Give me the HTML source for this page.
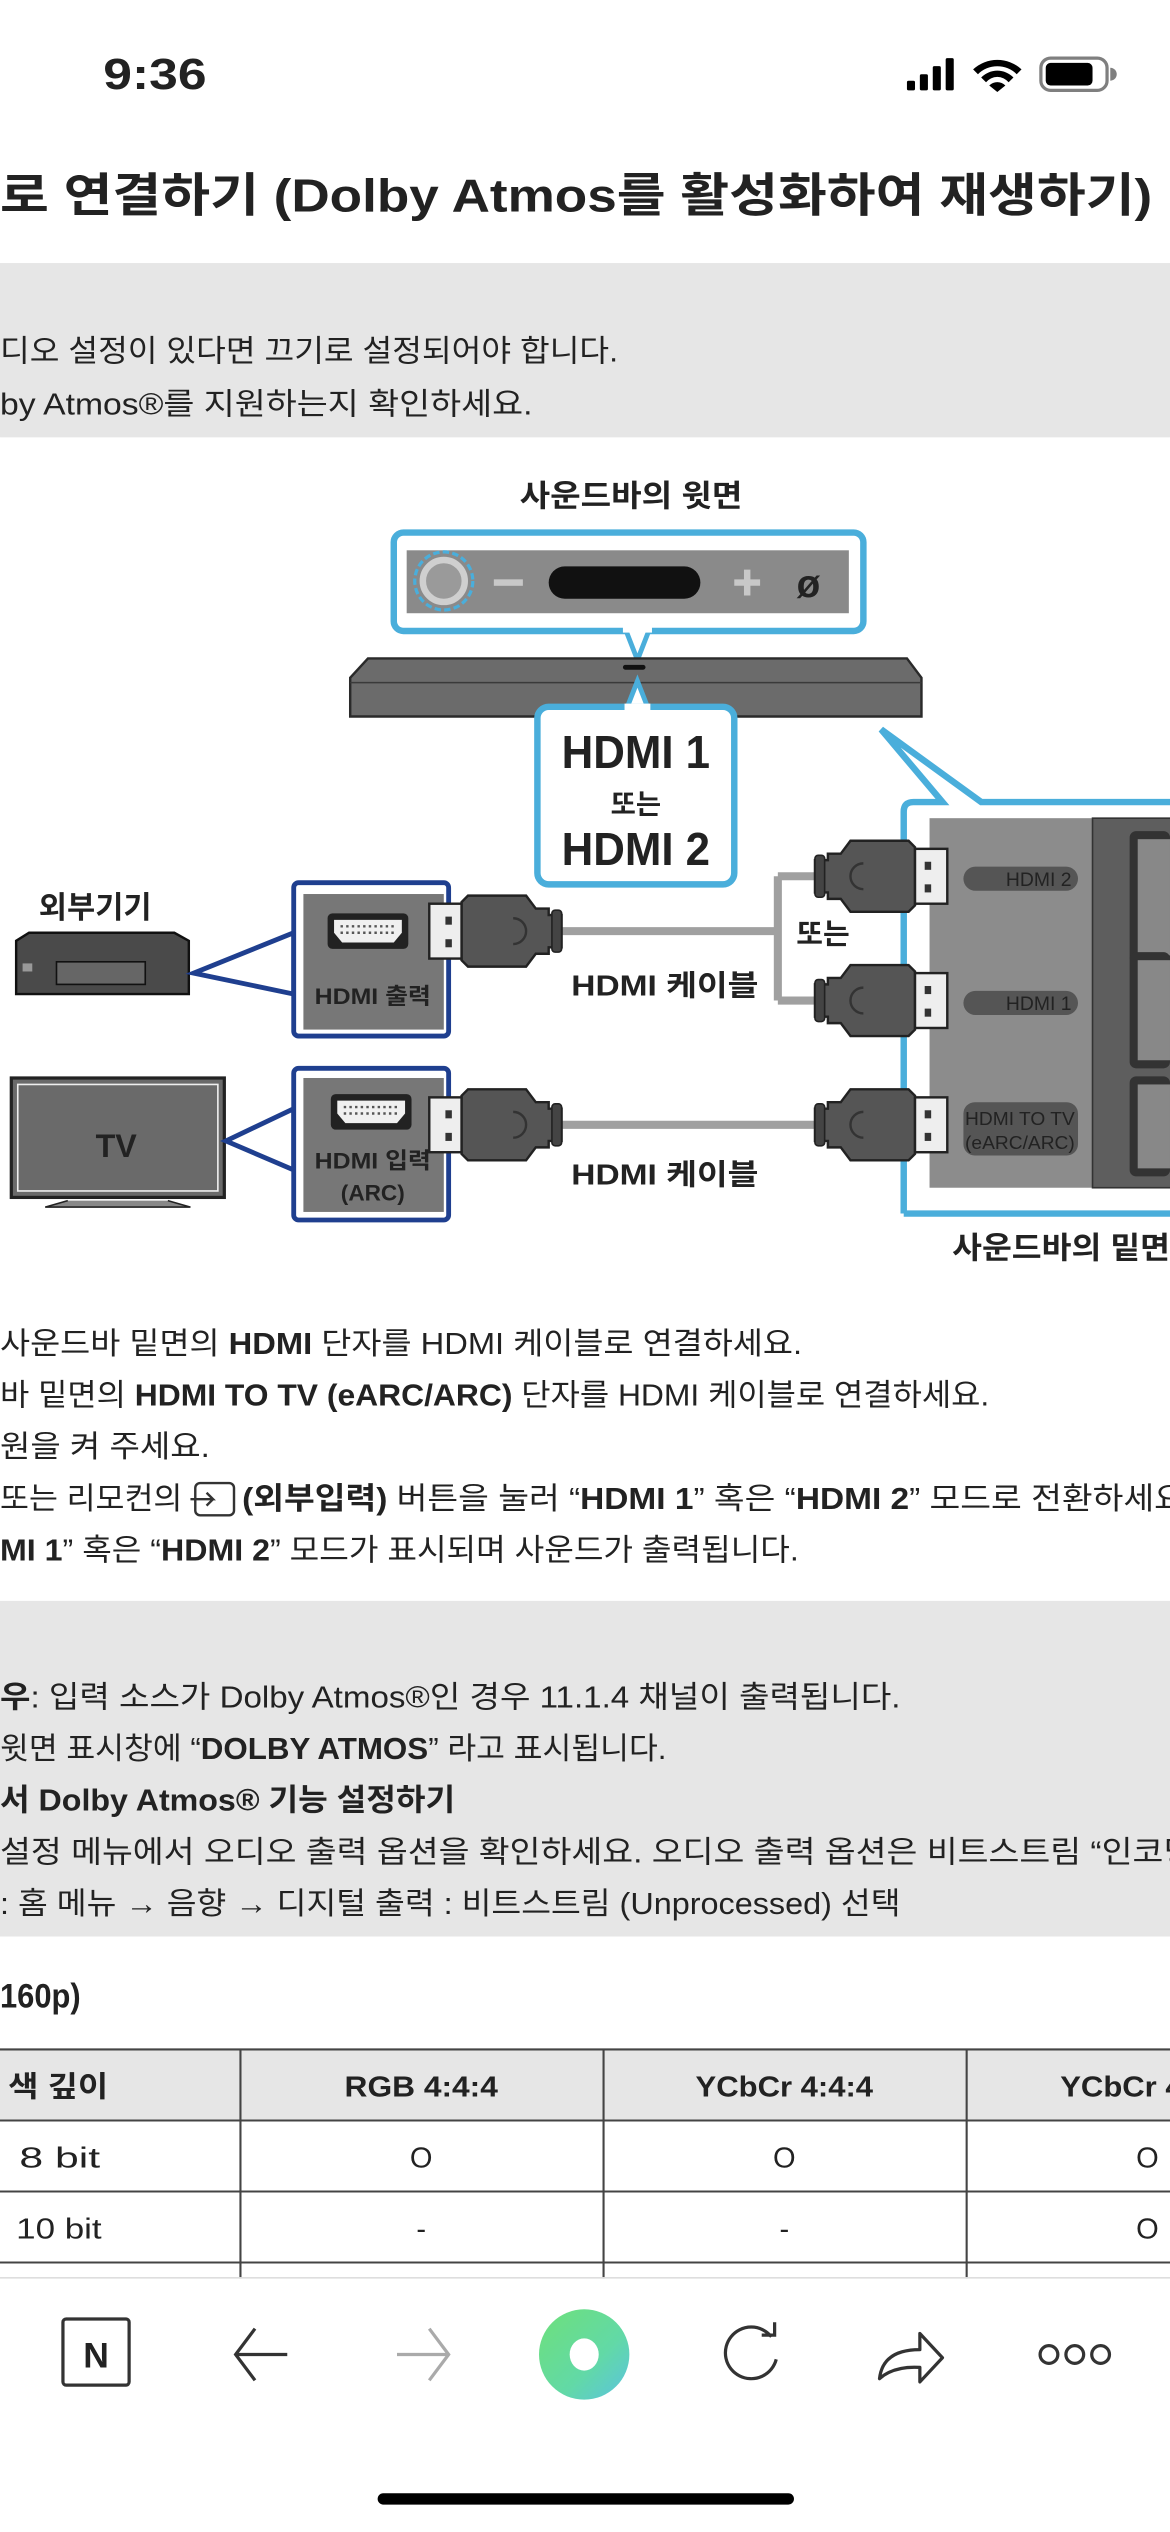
<!DOCTYPE html>
<html><head><meta charset="utf-8"><style>
html,body{margin:0;padding:0;background:#fff;width:1170px;height:2532px;overflow:hidden}
svg{display:block}
text{font-family:"Liberation Sans","Noto Sans CJK KR",sans-serif;fill:#222}
</style></head><body>
<svg width="1170" height="2532" viewBox="0 0 725 1569" xmlns="http://www.w3.org/2000/svg">
<defs>
<linearGradient id="g" x1="0" y1="0" x2="1" y2="1"><stop offset="0" stop-color="#6ee07a"/><stop offset="0.6" stop-color="#62d9a6"/><stop offset="1" stop-color="#5bc3e0"/></linearGradient>
<g id="plugR">
<path d="M0,-10 h8 v-4 h8 l6,-8 h36 l4,4 v36 l-4,4 h-36 l-6,-8 h-8 v-4 h-8z" fill="#555" stroke="#222" stroke-width="1.5"/>
<rect x="0" y="-13" width="6" height="26" rx="2" fill="#444" stroke="#222"/>
<path d="M30,-8 a8,8 0 0 0 0,16" fill="none" stroke="#333" stroke-width="1.5"/>
<rect x="62" y="-17" width="20" height="34" fill="#eee" stroke="#222" stroke-width="1.5"/>
<rect x="68" y="-9" width="4" height="5" fill="#333"/><rect x="68" y="5" width="4" height="5" fill="#333"/>
</g>
<g id="plugL">
<use href="#plugR" transform="scale(-1,1)"/>
</g>
<g id="port">
<rect x="-25" y="-12" width="50" height="22" rx="3" fill="#222"/>
<path d="M-21,-8 h42 v8 l-5,6 h-32 l-5,-6z" fill="#f0f0f0"/>
<path d="M-17,-4 h34 M-17,0 h34" stroke="#555" stroke-width="1.5" stroke-dasharray="1.5,2"/>
</g>
</defs>

<text x="64" y="55" font-size="27" font-weight="bold" fill="#000" textLength="64" lengthAdjust="spacingAndGlyphs">9:36</text>
<rect x="562" y="50" width="5" height="6" rx="1" fill="#000"/><rect x="570" y="46" width="5" height="10" rx="1" fill="#000"/><rect x="578" y="41" width="5" height="15" rx="1" fill="#000"/><rect x="586" y="36" width="5" height="20" rx="1" fill="#000"/>
<path d="M603,43 a22,22 0 0 1 30,0 l-3,3 a17,17 0 0 0 -24,0z M608,48 a14,14 0 0 1 20,0 l-3,3 a9,9 0 0 0 -14,0z M613,53 l5,4 l5,-4 a7,7 0 0 0 -10,0z" fill="#000"/>
<rect x="645" y="36" width="41" height="20" rx="6" fill="none" stroke="#000" stroke-width="2" opacity="0.5"/>
<rect x="648" y="39" width="29" height="14" rx="3" fill="#000"/>
<path d="M688,42 a4,4 0 0 1 0,8z" fill="#000" opacity="0.5"/>

<text x="0" y="131" font-size="29" font-weight="bold" fill="#111" textLength="714" lengthAdjust="spacingAndGlyphs">로 연결하기 (Dolby Atmos를 활성화하여 재생하기)</text>

<rect x="0" y="163" width="725" height="108" fill="#e6e6e6"/>
<text x="0" y="224" font-size="19" textLength="383" lengthAdjust="spacingAndGlyphs">디오 설정이 있다면 끄기로 설정되어야 합니다.</text>
<text x="0" y="257" font-size="19" textLength="330" lengthAdjust="spacingAndGlyphs">by Atmos®를 지원하는지 확인하세요.</text>

<text x="391" y="314" font-size="19" font-weight="bold" text-anchor="middle" textLength="138" lengthAdjust="spacingAndGlyphs">사운드바의 윗면</text>
<rect x="244" y="330" width="291" height="61" rx="6" fill="#fff" stroke="#4aaedb" stroke-width="4"/>
<rect x="252" y="341" width="274" height="39" fill="#8a8a8a"/>
<circle cx="275" cy="360" r="13" fill="#9a9a9a" stroke="#cfcfcf" stroke-width="4"/>
<circle cx="275" cy="360" r="18" fill="none" stroke="#4aaedb" stroke-width="2" stroke-dasharray="4,2"/>
<rect x="306" y="359" width="18" height="4" fill="#c8c8c8"/>
<rect x="340" y="351" width="94" height="20" rx="10" fill="#111"/>
<path d="M455,361 h16 M463,353 v16" stroke="#c8c8c8" stroke-width="4"/>
<text x="501" y="370" font-size="24" font-weight="bold" fill="#c8c8c8" text-anchor="middle">ø</text>
<path d="M388,391 l7,18 l7,-18" fill="#fff" stroke="#4aaedb" stroke-width="3"/>
<rect x="386" y="387" width="18" height="5" fill="#fff"/>
<path d="M228,408 h334 l9,12 v24 h-354 v-24z" fill="#6b6b6b" stroke="#2a2a2a" stroke-width="1.5"/>
<path d="M217,423 h354" stroke="#3a3a3a" stroke-width="1"/>
<rect x="386" y="412" width="14" height="3" rx="1.5" fill="#111"/>
<path d="M388,440 l7,-18 l7,18" fill="#fff" stroke="#4aaedb" stroke-width="3"/>
<rect x="333" y="438" width="122" height="110" rx="7" fill="#fff" stroke="#4aaedb" stroke-width="4"/>
<rect x="387" y="436" width="16" height="6" fill="#fff"/>
<text x="394" y="476" font-size="29" font-weight="bold" text-anchor="middle" fill="#111" textLength="92" lengthAdjust="spacingAndGlyphs">HDMI 1</text>
<text x="394" y="504" font-size="17" font-weight="bold" text-anchor="middle" fill="#111">또는</text>
<text x="394" y="536" font-size="29" font-weight="bold" text-anchor="middle" fill="#111" textLength="92" lengthAdjust="spacingAndGlyphs">HDMI 2</text>

<path d="M560,752 V503 q0,-6 6,-6 h18 l-38,-45 l62,45 h130" fill="none" stroke="#4aaedb" stroke-width="4"/>
<path d="M560,752 h170" stroke="#4aaedb" stroke-width="4" fill="none"/>
<rect x="576" y="507" width="101" height="229" fill="#8c8c8c"/>
<rect x="677" y="507" width="50" height="229" fill="#5e5e5e" stroke="#333"/>
<rect x="700" y="515" width="25" height="82" rx="4" fill="#333"/><rect x="705" y="520" width="20" height="72" fill="#888"/>
<rect x="700" y="590" width="25" height="72" rx="4" fill="#333"/><rect x="705" y="595" width="20" height="62" fill="#888"/>
<rect x="700" y="667" width="25" height="62" rx="4" fill="#333"/><rect x="705" y="672" width="20" height="52" fill="#888"/>
<rect x="597" y="537" width="71" height="15" rx="7.5" fill="#555"/>
<text x="664" y="549" font-size="12" fill="#eee" text-anchor="end">HDMI 2</text>
<rect x="597" y="614" width="71" height="15" rx="7.5" fill="#555"/>
<text x="664" y="626" font-size="12" fill="#eee" text-anchor="end">HDMI 1</text>
<rect x="597" y="683" width="71" height="33" rx="7" fill="#555"/>
<text x="632" y="697" font-size="11.5" fill="#eee" text-anchor="middle" textLength="68" lengthAdjust="spacingAndGlyphs">HDMI TO TV</text>
<text x="632" y="712" font-size="11.5" fill="#eee" text-anchor="middle" textLength="68" lengthAdjust="spacingAndGlyphs">(eARC/ARC)</text>
<text x="725" y="780" font-size="19" font-weight="bold" text-anchor="end" textLength="135" lengthAdjust="spacingAndGlyphs">사운드바의 밑면</text>

<path d="M345,577 H482 M482,543 V620 M482,543 H510 M482,620 H510" stroke="#a0a0a0" stroke-width="5" fill="none"/>
<path d="M345,697 H510" stroke="#a0a0a0" stroke-width="5"/>
<text x="510" y="585" font-size="18" font-weight="bold" text-anchor="middle">또는</text>
<text x="412" y="617" font-size="18" font-weight="bold" text-anchor="middle" textLength="116" lengthAdjust="spacingAndGlyphs">HDMI 케이블</text>
<text x="412" y="734" font-size="18" font-weight="bold" text-anchor="middle" textLength="116" lengthAdjust="spacingAndGlyphs">HDMI 케이블</text>
<use href="#plugR" transform="translate(505,543)"/>
<use href="#plugR" transform="translate(505,620)"/>
<use href="#plugR" transform="translate(505,697)"/>

<text x="59" y="569" font-size="19" font-weight="bold" text-anchor="middle">외부기기</text>
<path d="M10,583 l8,-5 h90 l9,5 v33 h-107z" fill="#4a4a4a" stroke="#111" stroke-width="1.5"/>
<rect x="35" y="596" width="55" height="14" fill="#666" stroke="#111"/>
<rect x="14" y="597" width="6" height="5" fill="#999"/>
<path d="M120,603 l62,-25 v38z" fill="none" stroke="#1f3f8f" stroke-width="3"/>
<rect x="182" y="547" width="96" height="95" rx="3" fill="#fff" stroke="#1f3f8f" stroke-width="3"/>
<rect x="188" y="554" width="87" height="84" fill="#777"/>
<use href="#port" transform="translate(228,578)"/>
<text x="231" y="622" font-size="14" fill="#fff" text-anchor="middle" font-weight="bold" textLength="72" lengthAdjust="spacingAndGlyphs">HDMI 출력</text>
<use href="#plugL" transform="translate(348,577)"/>

<rect x="7" y="668" width="132" height="74" fill="#6a6a6a" stroke="#222" stroke-width="2"/>
<rect x="11" y="672" width="124" height="66" fill="none" stroke="#eee" stroke-width="1"/>
<text x="72" y="717" font-size="20" font-weight="bold" fill="#fff" text-anchor="middle">TV</text>
<path d="M42,744 l-14,4 h90 l-14,-4" fill="#888" stroke="#222"/>
<path d="M140,707 l42,-20 v38z" fill="none" stroke="#1f3f8f" stroke-width="3"/>
<rect x="182" y="662" width="96" height="94" rx="3" fill="#fff" stroke="#1f3f8f" stroke-width="3"/>
<rect x="188" y="668" width="87" height="83" fill="#777"/>
<use href="#port" transform="translate(230,690)"/>
<text x="231" y="724" font-size="14" fill="#fff" text-anchor="middle" font-weight="bold" textLength="72" lengthAdjust="spacingAndGlyphs">HDMI 입력</text>
<text x="231" y="744" font-size="14" fill="#fff" text-anchor="middle" font-weight="bold">(ARC)</text>
<use href="#plugL" transform="translate(348,697)"/>

<g font-size="19">
<text x="0" y="839" textLength="497" lengthAdjust="spacingAndGlyphs">사운드바 밑면의 <tspan font-weight="bold">HDMI</tspan> 단자를 HDMI 케이블로 연결하세요.</text>
<text x="0" y="871" textLength="613" lengthAdjust="spacingAndGlyphs">바 밑면의 <tspan font-weight="bold">HDMI TO TV (eARC/ARC)</tspan> 단자를 HDMI 케이블로 연결하세요.</text>
<text x="0" y="903" textLength="130" lengthAdjust="spacingAndGlyphs">원을 켜 주세요.</text>
<text x="0" y="935" textLength="113" lengthAdjust="spacingAndGlyphs">또는 리모컨의</text>
<rect x="121" y="919" width="24" height="20" rx="3" fill="none" stroke="#333" stroke-width="1.5"/>
<path d="M118,929 h14 l-4,-4 M132,929 l-4,4" stroke="#333" stroke-width="1.5" fill="none"/>
<text x="150" y="935" textLength="590" lengthAdjust="spacingAndGlyphs"><tspan font-weight="bold">(외부입력)</tspan> 버튼을 눌러 “<tspan font-weight="bold">HDMI 1</tspan>” 혹은 “<tspan font-weight="bold">HDMI 2</tspan>” 모드로 전환하세요.</text>
<text x="0" y="967" textLength="495" lengthAdjust="spacingAndGlyphs"><tspan font-weight="bold">MI 1</tspan>” 혹은 “<tspan font-weight="bold">HDMI 2</tspan>” 모드가 표시되며 사운드가 출력됩니다.</text>
</g>

<rect x="0" y="992" width="725" height="208" fill="#e6e6e6"/>
<g font-size="19">
<text x="0" y="1058" textLength="558" lengthAdjust="spacingAndGlyphs"><tspan font-weight="bold">우</tspan>: 입력 소스가 Dolby Atmos®인 경우 11.1.4 채널이 출력됩니다.</text>
<text x="0" y="1090" textLength="413" lengthAdjust="spacingAndGlyphs">윗면 표시창에 “<tspan font-weight="bold">DOLBY ATMOS</tspan>” 라고 표시됩니다.</text>
<text x="0" y="1122" font-weight="bold" textLength="282" lengthAdjust="spacingAndGlyphs">서 Dolby Atmos® 기능 설정하기</text>
<text x="0" y="1154" textLength="740" lengthAdjust="spacingAndGlyphs"> 설정 메뉴에서 오디오 출력 옵션을 확인하세요. 오디오 출력 옵션은 비트스트림 “인코딩</text>
<text x="0" y="1186" textLength="558" lengthAdjust="spacingAndGlyphs">: 홈 메뉴 → 음향 → 디지털 출력 : 비트스트림 (Unprocessed) 선택</text>
</g>

<text x="0" y="1244" font-size="21" font-weight="bold" textLength="50" lengthAdjust="spacingAndGlyphs">160p)</text>

<rect x="0" y="1270" width="725" height="44" fill="#e6e6e6"/>
<g stroke="#444" stroke-width="1.3">
<path d="M0,1270 H725 M0,1314 H725 M0,1358 H725 M0,1402 H725"/>
<path d="M149,1270 V1412 M374,1270 V1412 M599,1270 V1412"/>
</g>
<g font-size="18">
<text x="5" y="1299" font-weight="bold" textLength="62" lengthAdjust="spacingAndGlyphs">색 깊이</text>
<text x="261" y="1299" text-anchor="middle" font-weight="bold" textLength="95" lengthAdjust="spacingAndGlyphs">RGB 4:4:4</text>
<text x="486" y="1299" text-anchor="middle" font-weight="bold" textLength="110" lengthAdjust="spacingAndGlyphs">YCbCr 4:4:4</text>
<text x="657" y="1299" font-weight="bold" textLength="110" lengthAdjust="spacingAndGlyphs">YCbCr 4:2:2</text>
<text x="12" y="1343" textLength="50" lengthAdjust="spacingAndGlyphs">8 bit</text>
<text x="261" y="1343" text-anchor="middle">O</text><text x="486" y="1343" text-anchor="middle">O</text><text x="711" y="1343" text-anchor="middle">O</text>
<text x="10" y="1387" textLength="53" lengthAdjust="spacingAndGlyphs">10 bit</text>
<text x="261" y="1387" text-anchor="middle">-</text><text x="486" y="1387" text-anchor="middle">-</text><text x="711" y="1387" text-anchor="middle">O</text>
</g>

<rect x="0" y="1412" width="725" height="157" fill="#fff"/>
<rect x="0" y="1411" width="725" height="1" fill="#ddd"/>
<rect x="39" y="1437" width="41" height="41" rx="2" fill="none" stroke="#333" stroke-width="2"/>
<text x="59.5" y="1467" font-size="22" font-weight="bold" fill="#333" text-anchor="middle">N</text>
<path d="M178,1459 H146 M158,1443 L146,1459 L158,1475" stroke="#333" stroke-width="2" fill="none"/>
<path d="M246,1459 H278 M266,1443 L278,1459 L266,1475" stroke="#aaa" stroke-width="2" fill="none"/>
<ellipse cx="362" cy="1459" rx="28" ry="28" fill="url(#g)"/>
<ellipse cx="362" cy="1459" rx="9" ry="10" fill="#fff"/>
<path d="M478,1448 A16,16 0 1 0 481,1462" stroke="#333" stroke-width="2" fill="none"/>
<path d="M472,1447 H480 V1439" stroke="#333" stroke-width="2" fill="none"/>
<path d="M545,1474 q2,-18 25,-18 v-10 l14,15 l-14,15 v-9 q-16,-1 -25,7z" stroke="#333" stroke-width="2" fill="none" stroke-linejoin="round"/>
<circle cx="650" cy="1459" r="5.5" fill="none" stroke="#333" stroke-width="2"/>
<circle cx="666" cy="1459" r="5.5" fill="none" stroke="#333" stroke-width="2"/>
<circle cx="682" cy="1459" r="5.5" fill="none" stroke="#333" stroke-width="2"/>
<rect x="234" y="1545" width="258" height="7" rx="3.5" fill="#000"/>
</svg>
</body></html>
